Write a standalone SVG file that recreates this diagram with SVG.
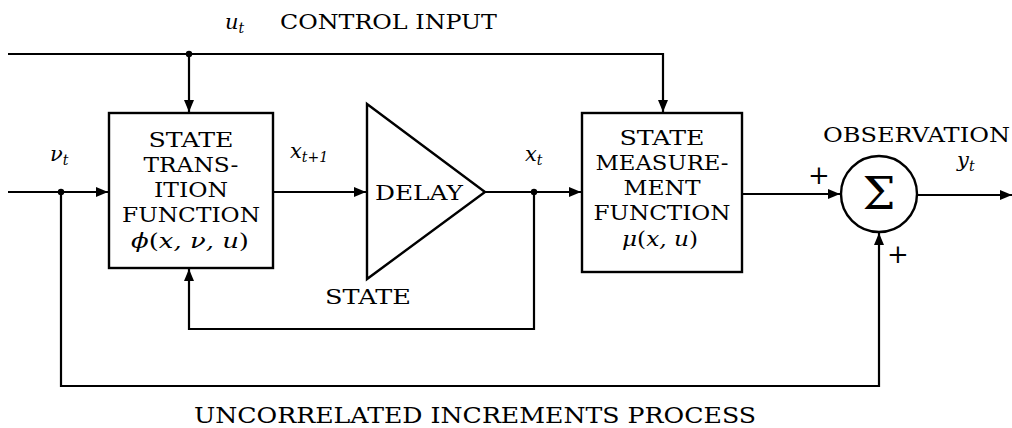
<svg xmlns="http://www.w3.org/2000/svg" width="1012" height="428" viewBox="0 0 1012 428">
<style>
.t{font-family:"DejaVu Serif","Liberation Serif",serif;font-size:21px;fill:#000}
.m{font-family:"DejaVu Serif","Liberation Serif",serif;font-style:italic;font-size:21px;fill:#000}
.s{font-size:14px}
.c{text-anchor:middle}
.ln{fill:none;stroke:#000;stroke-width:2.2}
.bx{fill:#fff;stroke:#000;stroke-width:2.4}
</style>
<defs>
<marker id="ah" viewBox="0 0 12 10" refX="12" refY="5" markerWidth="12" markerHeight="10" markerUnits="userSpaceOnUse" orient="auto">
<path d="M0,0 L12,5 L0,10 z" fill="#000"/>
</marker>
</defs>
<g id="connectors">
<path class="ln" d="M8,54 H663 V112" marker-end="url(#ah)"/>
<path class="ln" d="M189,54 V112" marker-end="url(#ah)"/>
<path class="ln" d="M8,192 H108" marker-end="url(#ah)"/>
<path class="ln" d="M273,192 H366" marker-end="url(#ah)"/>
<path class="ln" d="M485,192 H581" marker-end="url(#ah)"/>
<path class="ln" d="M534,192 V329 H189 V269" marker-end="url(#ah)"/>
<path class="ln" d="M61,192 V386 H879 V233" marker-end="url(#ah)"/>
<path class="ln" d="M742,194 H840" marker-end="url(#ah)"/>
<path class="ln" d="M917,195 H1012" marker-end="url(#ah)"/>
<circle cx="189" cy="54" r="3.2"/>
<circle cx="61" cy="192" r="3.2"/>
<circle cx="534" cy="192" r="3.2"/>
</g>
<g id="stf">
<rect class="bx" x="109" y="113" width="164" height="155"/>
<text class="t c" x="191" y="147" textLength="85" lengthAdjust="spacingAndGlyphs">STATE</text>
<text class="t c" x="191" y="172" textLength="95" lengthAdjust="spacingAndGlyphs">TRANS-</text>
<text class="t c" x="191" y="197" textLength="74" lengthAdjust="spacingAndGlyphs">ITION</text>
<text class="t c" x="191" y="222" textLength="138" lengthAdjust="spacingAndGlyphs">FUNCTION</text>
<text class="m c" x="190" y="248" textLength="118" lengthAdjust="spacingAndGlyphs">ϕ<tspan font-style="normal">(</tspan>x, ν, u<tspan font-style="normal">)</tspan></text>
</g>
<g id="delay">
<path class="bx" d="M367,104 L485,192 L367,279 Z"/>
<text class="t c" x="419" y="200" textLength="88" lengthAdjust="spacingAndGlyphs">DELAY</text>
</g>
<g id="smf">
<rect class="bx" x="582" y="113" width="160" height="159"/>
<text class="t c" x="662" y="145" textLength="85" lengthAdjust="spacingAndGlyphs">STATE</text>
<text class="t c" x="662" y="170" textLength="133" lengthAdjust="spacingAndGlyphs">MEASURE-</text>
<text class="t c" x="662" y="195" textLength="77" lengthAdjust="spacingAndGlyphs">MENT</text>
<text class="t c" x="662" y="220" textLength="137" lengthAdjust="spacingAndGlyphs">FUNCTION</text>
<text class="m c" x="660" y="246" textLength="76" lengthAdjust="spacingAndGlyphs">μ<tspan font-style="normal">(</tspan>x, u<tspan font-style="normal">)</tspan></text>
</g>
<g id="sum">
<circle class="bx" cx="879" cy="194" r="38"/>
<text class="t c" x="879" y="209" style="font-size:44px" textLength="33" lengthAdjust="spacingAndGlyphs">Σ</text>
<text class="t c" x="819" y="184" style="font-size:26px">+</text>
<text class="t c" x="898" y="263" style="font-size:26px">+</text>
</g>
<g id="labels">
<text class="m" x="225" y="29">u<tspan class="s" dy="4">t</tspan></text>
<text class="t" x="280" y="29" textLength="217" lengthAdjust="spacingAndGlyphs">CONTROL INPUT</text>
<text class="m" x="50" y="161">ν<tspan class="s" dy="4">t</tspan></text>
<text class="m" x="290" y="158">x<tspan class="s" dy="4">t+1</tspan></text>
<text class="m" x="525" y="161">x<tspan class="s" dy="4">t</tspan></text>
<text class="m" x="957" y="167">y<tspan class="s" dy="4">t</tspan></text>
<text class="t" x="823" y="142" textLength="187" lengthAdjust="spacingAndGlyphs">OBSERVATION</text>
<text class="t c" x="368" y="304" textLength="86" lengthAdjust="spacingAndGlyphs">STATE</text>
<text class="t c" x="475" y="423" style="font-size:22px" textLength="562" lengthAdjust="spacingAndGlyphs">UNCORRELATED INCREMENTS PROCESS</text>
</g>
</svg>
